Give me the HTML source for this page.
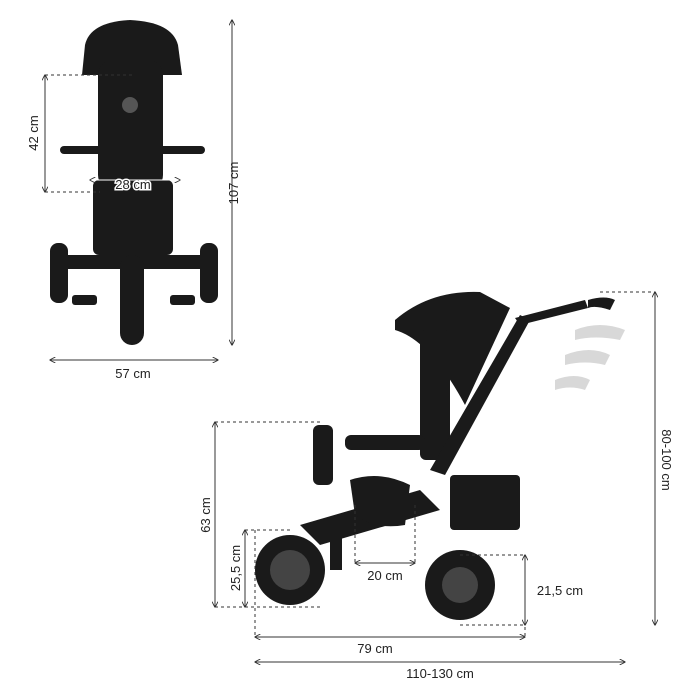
<!DOCTYPE html>
<html><head><meta charset="utf-8"><style>
html,body{margin:0;padding:0;background:#fff}
svg{display:block}
text{font-family:"Liberation Sans",sans-serif;font-size:13px;fill:#222}
</style></head><body>
<svg width="700" height="700" viewBox="0 0 700 700" xmlns="http://www.w3.org/2000/svg">
<defs>
<marker id="a" viewBox="0 0 10 10" refX="9" refY="5" markerWidth="6" markerHeight="6" orient="auto-start-reverse"><path d="M0,0 L10,5 L0,10" fill="none" stroke="#333" stroke-width="1.5"/></marker>
</defs>
<!-- FRONT VIEW -->
<g fill="#1a1a1a">
<path d="M85,45 Q90,22 130,20 Q172,22 178,45 L182,75 L82,75 Z"/>
<rect x="98" y="60" width="65" height="130" rx="15"/>
<rect x="60" y="146" width="145" height="8" rx="4"/>
<rect x="93" y="180" width="80" height="75" rx="6"/>
<rect x="120" y="195" width="22" height="60"/>
<rect x="50" y="243" width="18" height="60" rx="8"/>
<rect x="200" y="243" width="18" height="60" rx="8"/>
<rect x="68" y="255" width="132" height="14"/>
<rect x="120" y="255" width="24" height="90" rx="12"/>
<rect x="72" y="295" width="25" height="10" rx="3"/>
<rect x="170" y="295" width="25" height="10" rx="3"/>
</g>
<circle cx="130" cy="105" r="8" fill="#555"/>
<!-- SIDE VIEW -->
<g fill="#1a1a1a">
<path d="M395,320 Q430,290 480,292 L510,308 L465,405 Q430,340 395,330 Z"/>
<rect x="420" y="330" width="30" height="130" rx="6"/>
<rect x="345" y="435" width="80" height="15" rx="6"/>
<rect x="313" y="425" width="20" height="60" rx="6"/>
<path d="M300,525 L420,490 L440,510 L320,545 Z"/>
<path d="M430,470 L520,315 L530,320 L445,475 Z"/>
<path d="M515,318 L585,300 L588,308 L520,325 Z"/>
<rect x="450" y="475" width="70" height="55" rx="4"/>
<path d="M350,480 Q380,470 410,485 L405,525 Q375,530 355,515 Z"/>
<rect x="330" y="520" width="12" height="50"/>
<path d="M588,300 Q605,295 615,300 L610,310 Q595,305 588,308 Z"/>
</g>
<circle cx="290" cy="570" r="35" fill="#1a1a1a"/><circle cx="290" cy="570" r="20" fill="#444"/>
<circle cx="460" cy="585" r="35" fill="#1a1a1a"/><circle cx="460" cy="585" r="18" fill="#444"/>
<g fill="#c8c8c8" opacity="0.7">
<path d="M575,330 Q600,320 625,330 L620,340 Q595,335 575,340 Z"/>
<path d="M565,355 Q590,345 610,355 L605,365 Q585,360 565,365 Z"/>
<path d="M555,380 Q575,372 590,380 L585,390 Q570,385 555,390 Z"/>
</g>
<!-- DIMENSIONS -->
<g stroke="#333" stroke-width="1" fill="none">
<line x1="232" y1="20" x2="232" y2="345" marker-start="url(#a)" marker-end="url(#a)"/>
<line x1="45" y1="75" x2="45" y2="192" marker-start="url(#a)" marker-end="url(#a)"/>
<line x1="90" y1="180" x2="180" y2="180" stroke="#fff" marker-start="url(#a)" marker-end="url(#a)"/>
<line x1="50" y1="360" x2="218" y2="360" marker-start="url(#a)" marker-end="url(#a)"/>
<line x1="655" y1="292" x2="655" y2="625" marker-start="url(#a)" marker-end="url(#a)"/>
<line x1="215" y1="422" x2="215" y2="607" marker-start="url(#a)" marker-end="url(#a)"/>
<line x1="245" y1="530" x2="245" y2="607" marker-start="url(#a)" marker-end="url(#a)"/>
<line x1="355" y1="563" x2="415" y2="563" marker-start="url(#a)" marker-end="url(#a)"/>
<line x1="525" y1="555" x2="525" y2="625" marker-start="url(#a)" marker-end="url(#a)"/>
<line x1="255" y1="637" x2="525" y2="637" marker-start="url(#a)" marker-end="url(#a)"/>
<line x1="255" y1="662" x2="625" y2="662" marker-start="url(#a)" marker-end="url(#a)"/>
</g>
<g stroke="#333" stroke-width="1" stroke-dasharray="3,3" fill="none">
<line x1="45" y1="75" x2="135" y2="75"/><line x1="45" y1="192" x2="100" y2="192"/>
<line x1="215" y1="422" x2="320" y2="422"/><line x1="215" y1="607" x2="320" y2="607"/>
<line x1="245" y1="530" x2="290" y2="530"/>
<line x1="255" y1="530" x2="255" y2="637"/><line x1="525" y1="555" x2="525" y2="637"/>
<line x1="460" y1="555" x2="525" y2="555"/><line x1="460" y1="625" x2="525" y2="625"/>
<line x1="355" y1="505" x2="355" y2="563"/><line x1="415" y1="505" x2="415" y2="563"/>
<line x1="600" y1="292" x2="655" y2="292"/>
</g>
<text x="133" y="189" text-anchor="middle" stroke="#fff" stroke-width="3" paint-order="stroke">28 cm</text>
<text x="133" y="378" text-anchor="middle">57 cm</text>
<text transform="translate(238,183) rotate(-90)" text-anchor="middle">107 cm</text>
<text transform="translate(38,133) rotate(-90)" text-anchor="middle">42 cm</text>
<text transform="translate(662,460) rotate(90)" text-anchor="middle">80-100 cm</text>
<text transform="translate(210,515) rotate(-90)" text-anchor="middle">63 cm</text>
<text transform="translate(240,568) rotate(-90)" text-anchor="middle">25,5 cm</text>
<text x="385" y="580" text-anchor="middle">20 cm</text>
<text x="560" y="595" text-anchor="middle">21,5 cm</text>
<text x="375" y="653" text-anchor="middle">79 cm</text>
<text x="440" y="678" text-anchor="middle">110-130 cm</text>
</svg>
</body></html>
